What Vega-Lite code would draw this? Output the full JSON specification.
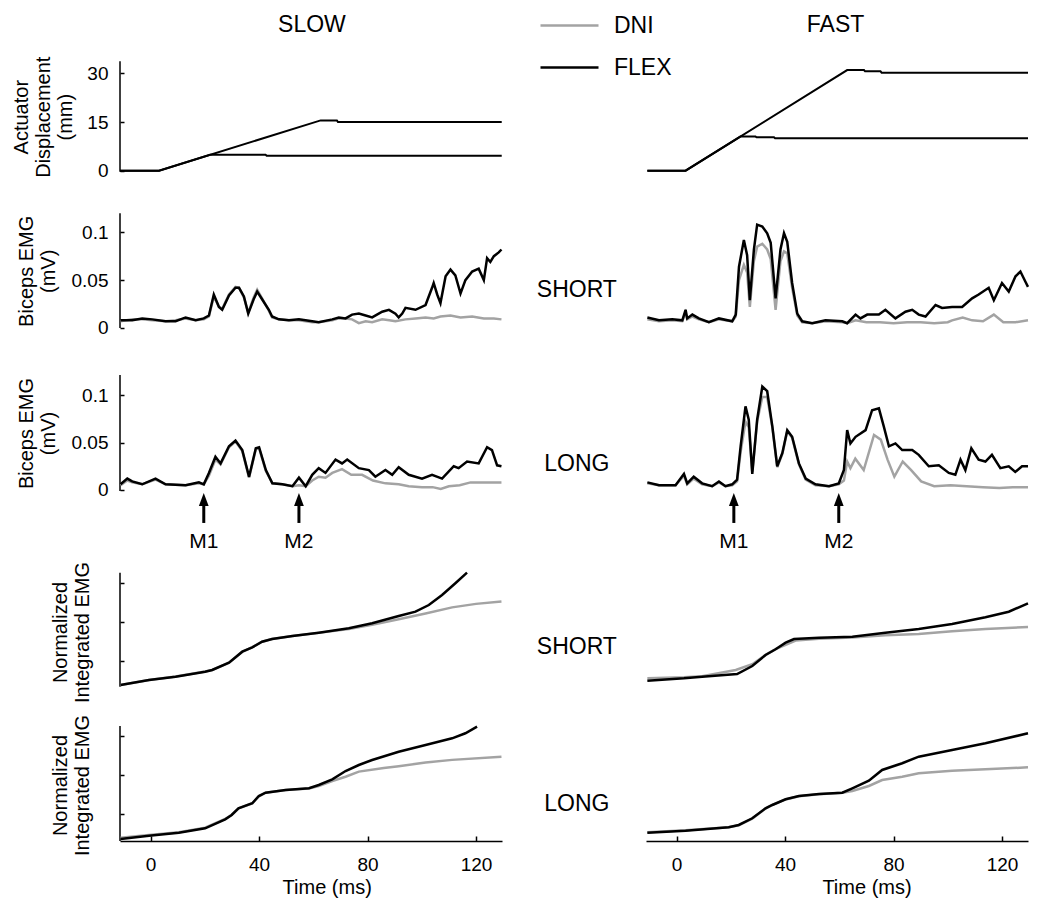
{
"$schema": "https://vega.github.io/schema/vega-lite/v6.json",
"padding": {"left": 11, "top": 0, "right": 5, "bottom": 5},
"background": "white",
"columns": 3,
"spacing": {"row": 0, "column": 0},
"bounds": "flush",
"align": "each",
"resolve": {"scale": {"color": "shared"}, "legend": {"color": "shared"}},
"datasets": {
"act_slow": [
{"stretch":"SHORT","t":-11.3,"d":0},{"stretch":"SHORT","t":3.1,"d":0},{"stretch":"SHORT","t":21.9,"d":4.9},{"stretch":"SHORT","t":42.4,"d":4.9},{"stretch":"SHORT","t":42.8,"d":4.6},{"stretch":"SHORT","t":129.5,"d":4.6},
{"stretch":"LONG","t":-11.3,"d":0},{"stretch":"LONG","t":3.1,"d":0},{"stretch":"LONG","t":62.7,"d":15.5},{"stretch":"LONG","t":68.7,"d":15.5},{"stretch":"LONG","t":69.1,"d":15.0},{"stretch":"LONG","t":129.5,"d":15.0}],
"act_fast": [
{"stretch":"SHORT","t":-10.8,"d":0},{"stretch":"SHORT","t":3.3,"d":0},{"stretch":"SHORT","t":23.5,"d":10.5},{"stretch":"SHORT","t":29.1,"d":10.5},{"stretch":"SHORT","t":29.5,"d":10.3},{"stretch":"SHORT","t":35.9,"d":10.3},{"stretch":"SHORT","t":36.3,"d":10.0},{"stretch":"SHORT","t":129.6,"d":10.0},
{"stretch":"LONG","t":-10.8,"d":0},{"stretch":"LONG","t":3.3,"d":0},{"stretch":"LONG","t":62.9,"d":31.0},{"stretch":"LONG","t":69.1,"d":31.0},{"stretch":"LONG","t":69.5,"d":30.6},{"stretch":"LONG","t":75.2,"d":30.6},{"stretch":"LONG","t":75.6,"d":30.2},{"stretch":"LONG","t":129.6,"d":30.2}],
"arrows": [
{"speed":"SLOW","label":"M1","t":19.6},{"speed":"SLOW","label":"M2","t":54.7},{"speed":"FAST","label":"M1","t":21.1},{"speed":"FAST","label":"M2","t":59.8}],
"slow_short": [
{"cond":"DNI","t":-11.1,"v":0.007},{"cond":"DNI","t":-6.8,"v":0.009},{"cond":"DNI","t":-3.1,"v":0.009},{"cond":"DNI","t":0.6,"v":0.008},{"cond":"DNI","t":5.5,"v":0.007},{"cond":"DNI","t":9.2,"v":0.008},{"cond":"DNI","t":12.9,"v":0.010},{"cond":"DNI","t":16.6,"v":0.008},{"cond":"DNI","t":19.6,"v":0.009},{"cond":"DNI","t":21.5,"v":0.012},{"cond":"DNI","t":23.3,"v":0.033},{"cond":"DNI","t":25.2,"v":0.022},{"cond":"DNI","t":26.4,"v":0.020},{"cond":"DNI","t":28.9,"v":0.035},{"cond":"DNI","t":31.3,"v":0.043},{"cond":"DNI","t":32.6,"v":0.042},{"cond":"DNI","t":34.4,"v":0.032},{"cond":"DNI","t":36.0,"v":0.016},{"cond":"DNI","t":38.0,"v":0.032},{"cond":"DNI","t":39.3,"v":0.040},{"cond":"DNI","t":41.1,"v":0.031},{"cond":"DNI","t":43.6,"v":0.018},{"cond":"DNI","t":44.8,"v":0.011},{"cond":"DNI","t":47.3,"v":0.009},{"cond":"DNI","t":51.0,"v":0.008},{"cond":"DNI","t":54.7,"v":0.008},{"cond":"DNI","t":59.6,"v":0.006},{"cond":"DNI","t":62.0,"v":0.006},{"cond":"DNI","t":67.0,"v":0.008},{"cond":"DNI","t":69.4,"v":0.010},{"cond":"DNI","t":71.9,"v":0.010},{"cond":"DNI","t":74.3,"v":0.009},{"cond":"DNI","t":76.8,"v":0.005},{"cond":"DNI","t":79.3,"v":0.007},{"cond":"DNI","t":81.7,"v":0.006},{"cond":"DNI","t":85.4,"v":0.009},{"cond":"DNI","t":88.0,"v":0.008},{"cond":"DNI","t":90.3,"v":0.007},{"cond":"DNI","t":94.0,"v":0.009},{"cond":"DNI","t":97.7,"v":0.010},{"cond":"DNI","t":101.4,"v":0.011},{"cond":"DNI","t":104.4,"v":0.010},{"cond":"DNI","t":106.9,"v":0.012},{"cond":"DNI","t":110.6,"v":0.013},{"cond":"DNI","t":114.3,"v":0.011},{"cond":"DNI","t":118.6,"v":0.012},{"cond":"DNI","t":122.9,"v":0.010},{"cond":"DNI","t":126.6,"v":0.010},{"cond":"DNI","t":129.4,"v":0.009},
{"cond":"FLEX","t":-11.1,"v":0.008},{"cond":"FLEX","t":-6.8,"v":0.008},{"cond":"FLEX","t":-3.1,"v":0.010},{"cond":"FLEX","t":0.6,"v":0.009},{"cond":"FLEX","t":5.5,"v":0.007},{"cond":"FLEX","t":9.2,"v":0.007},{"cond":"FLEX","t":12.9,"v":0.011},{"cond":"FLEX","t":16.6,"v":0.008},{"cond":"FLEX","t":19.6,"v":0.010},{"cond":"FLEX","t":21.5,"v":0.013},{"cond":"FLEX","t":23.3,"v":0.035},{"cond":"FLEX","t":25.2,"v":0.022},{"cond":"FLEX","t":26.4,"v":0.019},{"cond":"FLEX","t":28.9,"v":0.034},{"cond":"FLEX","t":31.3,"v":0.042},{"cond":"FLEX","t":32.6,"v":0.042},{"cond":"FLEX","t":34.4,"v":0.033},{"cond":"FLEX","t":36.0,"v":0.015},{"cond":"FLEX","t":38.0,"v":0.030},{"cond":"FLEX","t":39.3,"v":0.038},{"cond":"FLEX","t":41.1,"v":0.030},{"cond":"FLEX","t":43.6,"v":0.019},{"cond":"FLEX","t":44.8,"v":0.012},{"cond":"FLEX","t":47.3,"v":0.009},{"cond":"FLEX","t":51.0,"v":0.008},{"cond":"FLEX","t":54.7,"v":0.009},{"cond":"FLEX","t":59.6,"v":0.007},{"cond":"FLEX","t":62.0,"v":0.006},{"cond":"FLEX","t":67.0,"v":0.009},{"cond":"FLEX","t":69.4,"v":0.011},{"cond":"FLEX","t":71.9,"v":0.010},{"cond":"FLEX","t":74.3,"v":0.014},{"cond":"FLEX","t":76.8,"v":0.015},{"cond":"FLEX","t":79.3,"v":0.013},{"cond":"FLEX","t":81.7,"v":0.011},{"cond":"FLEX","t":85.4,"v":0.017},{"cond":"FLEX","t":87.9,"v":0.019},{"cond":"FLEX","t":90.3,"v":0.015},{"cond":"FLEX","t":91.5,"v":0.011},{"cond":"FLEX","t":92.8,"v":0.015},{"cond":"FLEX","t":94.0,"v":0.021},{"cond":"FLEX","t":97.7,"v":0.019},{"cond":"FLEX","t":101.4,"v":0.024},{"cond":"FLEX","t":103.8,"v":0.042},{"cond":"FLEX","t":104.4,"v":0.047},{"cond":"FLEX","t":105.7,"v":0.035},{"cond":"FLEX","t":106.9,"v":0.026},{"cond":"FLEX","t":108.8,"v":0.054},{"cond":"FLEX","t":110.6,"v":0.061},{"cond":"FLEX","t":112.4,"v":0.055},{"cond":"FLEX","t":114.3,"v":0.036},{"cond":"FLEX","t":116.1,"v":0.050},{"cond":"FLEX","t":118.6,"v":0.059},{"cond":"FLEX","t":121.0,"v":0.062},{"cond":"FLEX","t":122.9,"v":0.050},{"cond":"FLEX","t":124.1,"v":0.073},{"cond":"FLEX","t":125.3,"v":0.069},{"cond":"FLEX","t":126.6,"v":0.075},{"cond":"FLEX","t":128.4,"v":0.079},{"cond":"FLEX","t":129.4,"v":0.082}],
"fast_short": [
{"cond":"DNI","t":-10.8,"v":0.009},{"cond":"DNI","t":-6.5,"v":0.007},{"cond":"DNI","t":-1.6,"v":0.008},{"cond":"DNI","t":2.1,"v":0.007},{"cond":"DNI","t":3.3,"v":0.016},{"cond":"DNI","t":3.9,"v":0.009},{"cond":"DNI","t":5.8,"v":0.012},{"cond":"DNI","t":8.2,"v":0.009},{"cond":"DNI","t":11.9,"v":0.006},{"cond":"DNI","t":15.6,"v":0.009},{"cond":"DNI","t":20.5,"v":0.007},{"cond":"DNI","t":21.8,"v":0.012},{"cond":"DNI","t":23.0,"v":0.050},{"cond":"DNI","t":24.8,"v":0.066},{"cond":"DNI","t":26.0,"v":0.058},{"cond":"DNI","t":27.0,"v":0.022},{"cond":"DNI","t":28.5,"v":0.070},{"cond":"DNI","t":29.7,"v":0.085},{"cond":"DNI","t":31.6,"v":0.088},{"cond":"DNI","t":33.4,"v":0.082},{"cond":"DNI","t":34.7,"v":0.072},{"cond":"DNI","t":36.5,"v":0.019},{"cond":"DNI","t":38.3,"v":0.070},{"cond":"DNI","t":39.6,"v":0.080},{"cond":"DNI","t":40.8,"v":0.078},{"cond":"DNI","t":42.6,"v":0.042},{"cond":"DNI","t":44.5,"v":0.013},{"cond":"DNI","t":46.3,"v":0.006},{"cond":"DNI","t":50.0,"v":0.005},{"cond":"DNI","t":54.9,"v":0.007},{"cond":"DNI","t":61.1,"v":0.006},{"cond":"DNI","t":62.9,"v":0.005},{"cond":"DNI","t":66.0,"v":0.008},{"cond":"DNI","t":70.0,"v":0.006},{"cond":"DNI","t":75.0,"v":0.006},{"cond":"DNI","t":80.0,"v":0.005},{"cond":"DNI","t":85.0,"v":0.006},{"cond":"DNI","t":90.0,"v":0.006},{"cond":"DNI","t":95.0,"v":0.005},{"cond":"DNI","t":100.0,"v":0.006},{"cond":"DNI","t":101.6,"v":0.008},{"cond":"DNI","t":105.5,"v":0.011},{"cond":"DNI","t":109.0,"v":0.008},{"cond":"DNI","t":113.0,"v":0.007},{"cond":"DNI","t":117.0,"v":0.014},{"cond":"DNI","t":120.5,"v":0.006},{"cond":"DNI","t":125.0,"v":0.006},{"cond":"DNI","t":129.6,"v":0.008},
{"cond":"FLEX","t":-10.8,"v":0.011},{"cond":"FLEX","t":-6.5,"v":0.008},{"cond":"FLEX","t":-1.6,"v":0.009},{"cond":"FLEX","t":2.1,"v":0.008},{"cond":"FLEX","t":3.3,"v":0.019},{"cond":"FLEX","t":3.9,"v":0.010},{"cond":"FLEX","t":5.8,"v":0.014},{"cond":"FLEX","t":8.2,"v":0.010},{"cond":"FLEX","t":11.9,"v":0.006},{"cond":"FLEX","t":15.6,"v":0.010},{"cond":"FLEX","t":20.5,"v":0.007},{"cond":"FLEX","t":21.8,"v":0.014},{"cond":"FLEX","t":23.0,"v":0.064},{"cond":"FLEX","t":24.8,"v":0.092},{"cond":"FLEX","t":26.0,"v":0.076},{"cond":"FLEX","t":27.0,"v":0.029},{"cond":"FLEX","t":28.5,"v":0.082},{"cond":"FLEX","t":29.7,"v":0.108},{"cond":"FLEX","t":31.6,"v":0.106},{"cond":"FLEX","t":33.4,"v":0.099},{"cond":"FLEX","t":34.7,"v":0.089},{"cond":"FLEX","t":36.5,"v":0.031},{"cond":"FLEX","t":38.3,"v":0.082},{"cond":"FLEX","t":39.6,"v":0.099},{"cond":"FLEX","t":40.8,"v":0.090},{"cond":"FLEX","t":42.6,"v":0.047},{"cond":"FLEX","t":44.5,"v":0.015},{"cond":"FLEX","t":46.3,"v":0.007},{"cond":"FLEX","t":50.0,"v":0.005},{"cond":"FLEX","t":54.9,"v":0.008},{"cond":"FLEX","t":61.1,"v":0.007},{"cond":"FLEX","t":62.9,"v":0.005},{"cond":"FLEX","t":66.0,"v":0.014},{"cond":"FLEX","t":67.8,"v":0.010},{"cond":"FLEX","t":70.3,"v":0.014},{"cond":"FLEX","t":74.6,"v":0.014},{"cond":"FLEX","t":77.0,"v":0.019},{"cond":"FLEX","t":80.7,"v":0.010},{"cond":"FLEX","t":84.4,"v":0.017},{"cond":"FLEX","t":86.9,"v":0.019},{"cond":"FLEX","t":89.3,"v":0.014},{"cond":"FLEX","t":91.8,"v":0.012},{"cond":"FLEX","t":95.5,"v":0.024},{"cond":"FLEX","t":97.9,"v":0.021},{"cond":"FLEX","t":101.6,"v":0.022},{"cond":"FLEX","t":105.3,"v":0.022},{"cond":"FLEX","t":109.0,"v":0.031},{"cond":"FLEX","t":111.4,"v":0.035},{"cond":"FLEX","t":115.1,"v":0.042},{"cond":"FLEX","t":117.0,"v":0.029},{"cond":"FLEX","t":120.0,"v":0.047},{"cond":"FLEX","t":122.5,"v":0.038},{"cond":"FLEX","t":125.0,"v":0.054},{"cond":"FLEX","t":126.8,"v":0.059},{"cond":"FLEX","t":128.7,"v":0.048},{"cond":"FLEX","t":129.6,"v":0.043}],
"slow_long": [
{"cond":"DNI","t":-11.1,"v":0.005},{"cond":"DNI","t":-8.6,"v":0.010},{"cond":"DNI","t":-6.8,"v":0.008},{"cond":"DNI","t":-3.1,"v":0.006},{"cond":"DNI","t":1.8,"v":0.011},{"cond":"DNI","t":5.5,"v":0.006},{"cond":"DNI","t":12.9,"v":0.005},{"cond":"DNI","t":17.8,"v":0.007},{"cond":"DNI","t":19.6,"v":0.006},{"cond":"DNI","t":21.5,"v":0.015},{"cond":"DNI","t":23.9,"v":0.032},{"cond":"DNI","t":25.8,"v":0.027},{"cond":"DNI","t":28.9,"v":0.045},{"cond":"DNI","t":31.3,"v":0.051},{"cond":"DNI","t":33.8,"v":0.041},{"cond":"DNI","t":36.3,"v":0.013},{"cond":"DNI","t":38.8,"v":0.043},{"cond":"DNI","t":40.0,"v":0.044},{"cond":"DNI","t":42.5,"v":0.020},{"cond":"DNI","t":44.9,"v":0.007},{"cond":"DNI","t":48.6,"v":0.006},{"cond":"DNI","t":52.3,"v":0.004},{"cond":"DNI","t":54.7,"v":0.005},{"cond":"DNI","t":57.2,"v":0.004},{"cond":"DNI","t":59.6,"v":0.010},{"cond":"DNI","t":62.0,"v":0.014},{"cond":"DNI","t":64.5,"v":0.013},{"cond":"DNI","t":67.0,"v":0.018},{"cond":"DNI","t":70.6,"v":0.022},{"cond":"DNI","t":74.0,"v":0.016},{"cond":"DNI","t":78.0,"v":0.016},{"cond":"DNI","t":82.0,"v":0.010},{"cond":"DNI","t":86.6,"v":0.007},{"cond":"DNI","t":91.5,"v":0.006},{"cond":"DNI","t":95.2,"v":0.004},{"cond":"DNI","t":100.1,"v":0.003},{"cond":"DNI","t":104.0,"v":0.003},{"cond":"DNI","t":107.0,"v":0.001},{"cond":"DNI","t":110.0,"v":0.004},{"cond":"DNI","t":114.0,"v":0.005},{"cond":"DNI","t":118.0,"v":0.008},{"cond":"DNI","t":122.0,"v":0.008},{"cond":"DNI","t":129.4,"v":0.008},
{"cond":"FLEX","t":-11.1,"v":0.006},{"cond":"FLEX","t":-8.6,"v":0.012},{"cond":"FLEX","t":-6.8,"v":0.009},{"cond":"FLEX","t":-3.1,"v":0.006},{"cond":"FLEX","t":1.8,"v":0.012},{"cond":"FLEX","t":5.5,"v":0.006},{"cond":"FLEX","t":12.9,"v":0.005},{"cond":"FLEX","t":17.8,"v":0.008},{"cond":"FLEX","t":19.6,"v":0.006},{"cond":"FLEX","t":21.5,"v":0.018},{"cond":"FLEX","t":23.9,"v":0.035},{"cond":"FLEX","t":25.8,"v":0.028},{"cond":"FLEX","t":28.9,"v":0.046},{"cond":"FLEX","t":31.3,"v":0.052},{"cond":"FLEX","t":33.8,"v":0.042},{"cond":"FLEX","t":36.3,"v":0.014},{"cond":"FLEX","t":38.8,"v":0.044},{"cond":"FLEX","t":40.0,"v":0.045},{"cond":"FLEX","t":42.5,"v":0.021},{"cond":"FLEX","t":44.9,"v":0.007},{"cond":"FLEX","t":48.6,"v":0.006},{"cond":"FLEX","t":52.3,"v":0.004},{"cond":"FLEX","t":54.7,"v":0.013},{"cond":"FLEX","t":57.2,"v":0.004},{"cond":"FLEX","t":59.6,"v":0.016},{"cond":"FLEX","t":62.0,"v":0.023},{"cond":"FLEX","t":64.5,"v":0.018},{"cond":"FLEX","t":68.2,"v":0.032},{"cond":"FLEX","t":70.6,"v":0.028},{"cond":"FLEX","t":72.5,"v":0.032},{"cond":"FLEX","t":76.8,"v":0.023},{"cond":"FLEX","t":80.5,"v":0.021},{"cond":"FLEX","t":82.9,"v":0.014},{"cond":"FLEX","t":86.6,"v":0.021},{"cond":"FLEX","t":89.1,"v":0.016},{"cond":"FLEX","t":91.5,"v":0.024},{"cond":"FLEX","t":95.2,"v":0.016},{"cond":"FLEX","t":100.1,"v":0.012},{"cond":"FLEX","t":103.8,"v":0.016},{"cond":"FLEX","t":107.5,"v":0.012},{"cond":"FLEX","t":111.8,"v":0.025},{"cond":"FLEX","t":113.6,"v":0.023},{"cond":"FLEX","t":116.7,"v":0.030},{"cond":"FLEX","t":121.0,"v":0.028},{"cond":"FLEX","t":124.1,"v":0.045},{"cond":"FLEX","t":125.9,"v":0.042},{"cond":"FLEX","t":127.8,"v":0.026},{"cond":"FLEX","t":129.4,"v":0.025}],
"fast_long": [
{"cond":"DNI","t":-10.8,"v":0.007},{"cond":"DNI","t":-6.5,"v":0.005},{"cond":"DNI","t":-0.4,"v":0.005},{"cond":"DNI","t":2.7,"v":0.015},{"cond":"DNI","t":3.9,"v":0.006},{"cond":"DNI","t":6.3,"v":0.012},{"cond":"DNI","t":9.4,"v":0.006},{"cond":"DNI","t":13.1,"v":0.004},{"cond":"DNI","t":15.6,"v":0.008},{"cond":"DNI","t":18.0,"v":0.004},{"cond":"DNI","t":20.5,"v":0.005},{"cond":"DNI","t":22.3,"v":0.009},{"cond":"DNI","t":23.6,"v":0.040},{"cond":"DNI","t":25.4,"v":0.072},{"cond":"DNI","t":26.6,"v":0.066},{"cond":"DNI","t":27.9,"v":0.019},{"cond":"DNI","t":29.7,"v":0.072},{"cond":"DNI","t":31.6,"v":0.098},{"cond":"DNI","t":33.4,"v":0.098},{"cond":"DNI","t":35.3,"v":0.066},{"cond":"DNI","t":37.1,"v":0.024},{"cond":"DNI","t":39.0,"v":0.038},{"cond":"DNI","t":40.8,"v":0.062},{"cond":"DNI","t":42.6,"v":0.055},{"cond":"DNI","t":45.1,"v":0.027},{"cond":"DNI","t":47.6,"v":0.011},{"cond":"DNI","t":51.2,"v":0.005},{"cond":"DNI","t":56.2,"v":0.004},{"cond":"DNI","t":59.8,"v":0.006},{"cond":"DNI","t":61.7,"v":0.010},{"cond":"DNI","t":62.9,"v":0.030},{"cond":"DNI","t":64.1,"v":0.023},{"cond":"DNI","t":65.9,"v":0.033},{"cond":"DNI","t":69.0,"v":0.021},{"cond":"DNI","t":72.8,"v":0.058},{"cond":"DNI","t":75.3,"v":0.053},{"cond":"DNI","t":77.8,"v":0.032},{"cond":"DNI","t":80.3,"v":0.014},{"cond":"DNI","t":83.4,"v":0.030},{"cond":"DNI","t":86.5,"v":0.021},{"cond":"DNI","t":90.2,"v":0.009},{"cond":"DNI","t":95.0,"v":0.004},{"cond":"DNI","t":101.0,"v":0.005},{"cond":"DNI","t":107.0,"v":0.004},{"cond":"DNI","t":113.0,"v":0.003},{"cond":"DNI","t":119.0,"v":0.002},{"cond":"DNI","t":124.0,"v":0.003},{"cond":"DNI","t":129.6,"v":0.003},
{"cond":"FLEX","t":-10.8,"v":0.008},{"cond":"FLEX","t":-6.5,"v":0.005},{"cond":"FLEX","t":-0.4,"v":0.005},{"cond":"FLEX","t":2.7,"v":0.017},{"cond":"FLEX","t":3.9,"v":0.007},{"cond":"FLEX","t":6.3,"v":0.014},{"cond":"FLEX","t":9.4,"v":0.007},{"cond":"FLEX","t":13.1,"v":0.004},{"cond":"FLEX","t":15.6,"v":0.009},{"cond":"FLEX","t":18.0,"v":0.004},{"cond":"FLEX","t":20.5,"v":0.006},{"cond":"FLEX","t":22.3,"v":0.011},{"cond":"FLEX","t":23.6,"v":0.046},{"cond":"FLEX","t":25.4,"v":0.088},{"cond":"FLEX","t":26.6,"v":0.074},{"cond":"FLEX","t":27.9,"v":0.017},{"cond":"FLEX","t":29.7,"v":0.074},{"cond":"FLEX","t":31.6,"v":0.109},{"cond":"FLEX","t":33.4,"v":0.104},{"cond":"FLEX","t":35.3,"v":0.067},{"cond":"FLEX","t":37.1,"v":0.025},{"cond":"FLEX","t":39.0,"v":0.039},{"cond":"FLEX","t":40.8,"v":0.063},{"cond":"FLEX","t":42.6,"v":0.056},{"cond":"FLEX","t":45.1,"v":0.028},{"cond":"FLEX","t":47.6,"v":0.012},{"cond":"FLEX","t":51.2,"v":0.006},{"cond":"FLEX","t":56.2,"v":0.004},{"cond":"FLEX","t":59.8,"v":0.007},{"cond":"FLEX","t":61.7,"v":0.021},{"cond":"FLEX","t":62.9,"v":0.063},{"cond":"FLEX","t":64.1,"v":0.049},{"cond":"FLEX","t":66.0,"v":0.056},{"cond":"FLEX","t":69.7,"v":0.063},{"cond":"FLEX","t":72.1,"v":0.084},{"cond":"FLEX","t":74.6,"v":0.086},{"cond":"FLEX","t":76.4,"v":0.067},{"cond":"FLEX","t":78.3,"v":0.046},{"cond":"FLEX","t":80.7,"v":0.049},{"cond":"FLEX","t":83.2,"v":0.042},{"cond":"FLEX","t":86.9,"v":0.042},{"cond":"FLEX","t":89.3,"v":0.037},{"cond":"FLEX","t":93.0,"v":0.025},{"cond":"FLEX","t":96.7,"v":0.026},{"cond":"FLEX","t":100.4,"v":0.018},{"cond":"FLEX","t":102.8,"v":0.016},{"cond":"FLEX","t":104.7,"v":0.032},{"cond":"FLEX","t":106.5,"v":0.021},{"cond":"FLEX","t":108.7,"v":0.044},{"cond":"FLEX","t":111.4,"v":0.032},{"cond":"FLEX","t":113.9,"v":0.030},{"cond":"FLEX","t":116.3,"v":0.037},{"cond":"FLEX","t":119.4,"v":0.023},{"cond":"FLEX","t":122.5,"v":0.025},{"cond":"FLEX","t":124.9,"v":0.019},{"cond":"FLEX","t":127.4,"v":0.025},{"cond":"FLEX","t":129.6,"v":0.025}],
"slow_int_short": [
{"cond":"DNI","t":-11.1,"v":0.371},{"cond":"DNI","t":-0.6,"v":0.50},{"cond":"DNI","t":9.2,"v":0.59},{"cond":"DNI","t":20.1,"v":0.72},{"cond":"DNI","t":22.7,"v":0.76},{"cond":"DNI","t":28.9,"v":0.95},{"cond":"DNI","t":33.8,"v":1.23},{"cond":"DNI","t":37.5,"v":1.35},{"cond":"DNI","t":41.1,"v":1.49},{"cond":"DNI","t":44.8,"v":1.56},{"cond":"DNI","t":52.3,"v":1.64},{"cond":"DNI","t":62.0,"v":1.72},{"cond":"DNI","t":73.1,"v":1.82},{"cond":"DNI","t":81.7,"v":1.93},{"cond":"DNI","t":91.5,"v":2.07},{"cond":"DNI","t":101.4,"v":2.22},{"cond":"DNI","t":111.2,"v":2.38},{"cond":"DNI","t":120.0,"v":2.47},{"cond":"DNI","t":129.4,"v":2.53},
{"cond":"FLEX","t":-11.1,"v":0.371},{"cond":"FLEX","t":-0.6,"v":0.501},{"cond":"FLEX","t":9.2,"v":0.586},{"cond":"FLEX","t":20.1,"v":0.715},{"cond":"FLEX","t":22.7,"v":0.759},{"cond":"FLEX","t":28.9,"v":0.948},{"cond":"FLEX","t":33.8,"v":1.233},{"cond":"FLEX","t":37.5,"v":1.346},{"cond":"FLEX","t":41.1,"v":1.492},{"cond":"FLEX","t":44.8,"v":1.561},{"cond":"FLEX","t":52.3,"v":1.639},{"cond":"FLEX","t":62.0,"v":1.725},{"cond":"FLEX","t":73.1,"v":1.838},{"cond":"FLEX","t":81.7,"v":1.968},{"cond":"FLEX","t":91.5,"v":2.157},{"cond":"FLEX","t":97.7,"v":2.268},{"cond":"FLEX","t":102.6,"v":2.441},{"cond":"FLEX","t":107.5,"v":2.700},{"cond":"FLEX","t":112.4,"v":3.003},{"cond":"FLEX","t":116.7,"v":3.277}],
"fast_int_short": [
{"cond":"DNI","t":-10.8,"v":0.544},{"cond":"DNI","t":2.7,"v":0.57},{"cond":"DNI","t":9.4,"v":0.60},{"cond":"DNI","t":21.8,"v":0.76},{"cond":"DNI","t":27.9,"v":0.91},{"cond":"DNI","t":32.8,"v":1.15},{"cond":"DNI","t":36.5,"v":1.30},{"cond":"DNI","t":40.2,"v":1.41},{"cond":"DNI","t":43.9,"v":1.52},{"cond":"DNI","t":52.5,"v":1.57},{"cond":"DNI","t":64.8,"v":1.60},{"cond":"DNI","t":77.0,"v":1.66},{"cond":"DNI","t":89.3,"v":1.69},{"cond":"DNI","t":101.6,"v":1.76},{"cond":"DNI","t":113.9,"v":1.82},{"cond":"DNI","t":129.6,"v":1.872},
{"cond":"FLEX","t":-10.8,"v":0.483},{"cond":"FLEX","t":2.7,"v":0.544},{"cond":"FLEX","t":9.4,"v":0.586},{"cond":"FLEX","t":22.3,"v":0.656},{"cond":"FLEX","t":27.9,"v":0.863},{"cond":"FLEX","t":32.8,"v":1.147},{"cond":"FLEX","t":36.5,"v":1.295},{"cond":"FLEX","t":40.2,"v":1.466},{"cond":"FLEX","t":43.3,"v":1.561},{"cond":"FLEX","t":52.5,"v":1.595},{"cond":"FLEX","t":64.8,"v":1.621},{"cond":"FLEX","t":77.0,"v":1.725},{"cond":"FLEX","t":89.3,"v":1.820},{"cond":"FLEX","t":101.6,"v":1.950},{"cond":"FLEX","t":113.9,"v":2.123},{"cond":"FLEX","t":122.5,"v":2.268},{"cond":"FLEX","t":129.6,"v":2.485}],
"slow_int_long": [
{"cond":"DNI","t":-11.1,"v":0.40},{"cond":"DNI","t":-0.6,"v":0.47},{"cond":"DNI","t":10.4,"v":0.54},{"cond":"DNI","t":20.1,"v":0.66},{"cond":"DNI","t":27.5,"v":0.88},{"cond":"DNI","t":29.9,"v":0.99},{"cond":"DNI","t":32.4,"v":1.15},{"cond":"DNI","t":37.5,"v":1.28},{"cond":"DNI","t":39.9,"v":1.46},{"cond":"DNI","t":42.4,"v":1.55},{"cond":"DNI","t":49.8,"v":1.62},{"cond":"DNI","t":58.4,"v":1.66},{"cond":"DNI","t":62.0,"v":1.72},{"cond":"DNI","t":67.0,"v":1.85},{"cond":"DNI","t":71.9,"v":1.96},{"cond":"DNI","t":76.8,"v":2.09},{"cond":"DNI","t":86.0,"v":2.18},{"cond":"DNI","t":91.5,"v":2.23},{"cond":"DNI","t":101.4,"v":2.32},{"cond":"DNI","t":111.2,"v":2.39},{"cond":"DNI","t":129.4,"v":2.472},
{"cond":"FLEX","t":-11.1,"v":0.369},{"cond":"FLEX","t":-0.6,"v":0.454},{"cond":"FLEX","t":10.4,"v":0.530},{"cond":"FLEX","t":20.1,"v":0.642},{"cond":"FLEX","t":27.5,"v":0.872},{"cond":"FLEX","t":29.9,"v":0.982},{"cond":"FLEX","t":32.4,"v":1.153},{"cond":"FLEX","t":37.5,"v":1.281},{"cond":"FLEX","t":39.9,"v":1.467},{"cond":"FLEX","t":42.4,"v":1.552},{"cond":"FLEX","t":49.8,"v":1.621},{"cond":"FLEX","t":58.4,"v":1.664},{"cond":"FLEX","t":62.0,"v":1.748},{"cond":"FLEX","t":67.0,"v":1.894},{"cond":"FLEX","t":71.9,"v":2.106},{"cond":"FLEX","t":76.8,"v":2.259},{"cond":"FLEX","t":81.7,"v":2.387},{"cond":"FLEX","t":91.5,"v":2.599},{"cond":"FLEX","t":101.4,"v":2.770},{"cond":"FLEX","t":111.2,"v":2.941},{"cond":"FLEX","t":116.1,"v":3.069},{"cond":"FLEX","t":120.4,"v":3.238}],
"fast_int_long": [
{"cond":"DNI","t":-10.8,"v":0.54},{"cond":"DNI","t":3.3,"v":0.59},{"cond":"DNI","t":19.2,"v":0.67},{"cond":"DNI","t":22.9,"v":0.72},{"cond":"DNI","t":27.9,"v":0.89},{"cond":"DNI","t":32.8,"v":1.15},{"cond":"DNI","t":35.3,"v":1.24},{"cond":"DNI","t":40.2,"v":1.38},{"cond":"DNI","t":45.1,"v":1.46},{"cond":"DNI","t":52.5,"v":1.51},{"cond":"DNI","t":61.1,"v":1.55},{"cond":"DNI","t":64.8,"v":1.595},{"cond":"DNI","t":70.9,"v":1.723},{"cond":"DNI","t":75.8,"v":1.876},{"cond":"DNI","t":83.2,"v":1.961},{"cond":"DNI","t":89.3,"v":2.047},{"cond":"DNI","t":101.6,"v":2.114},{"cond":"DNI","t":113.9,"v":2.149},{"cond":"DNI","t":129.6,"v":2.2},
{"cond":"FLEX","t":-10.8,"v":0.530},{"cond":"FLEX","t":3.3,"v":0.581},{"cond":"FLEX","t":19.2,"v":0.668},{"cond":"FLEX","t":22.9,"v":0.727},{"cond":"FLEX","t":27.9,"v":0.898},{"cond":"FLEX","t":32.8,"v":1.153},{"cond":"FLEX","t":35.3,"v":1.238},{"cond":"FLEX","t":40.2,"v":1.383},{"cond":"FLEX","t":45.1,"v":1.467},{"cond":"FLEX","t":52.5,"v":1.519},{"cond":"FLEX","t":61.1,"v":1.552},{"cond":"FLEX","t":64.8,"v":1.664},{"cond":"FLEX","t":70.9,"v":1.858},{"cond":"FLEX","t":75.8,"v":2.132},{"cond":"FLEX","t":83.2,"v":2.303},{"cond":"FLEX","t":89.3,"v":2.472},{"cond":"FLEX","t":101.6,"v":2.642},{"cond":"FLEX","t":113.9,"v":2.814},{"cond":"FLEX","t":129.6,"v":3.069}]
},
"concat": [
{"width": 382, "height": 192, "layer": [
 {"data": {"values": [{}]}, "mark": {"type": "rule", "color": "#000", "strokeWidth": 1.5},
  "encoding": {"x": {"datum": -11.3, "type": "quantitative", "scale": {"domain": [-11.3, 129.6], "nice": false, "zero": false}, "axis": null},
   "y": {"datum": -0.3, "type": "quantitative", "scale": {"domain": [-6.56, 52.58], "nice": false, "zero": false}, "axis": {"values": [0, 15, 30], "title": ["Actuator", "Displacement", "(mm)"], "titleX": -99, "titleY": 116.7}},
   "y2": {"datum": 33.7}}},
 {"data": {"name": "act_slow"}, "mark": {"type": "line", "color": "#000", "strokeWidth": 2},
  "encoding": {"x": {"field": "t", "type": "quantitative", "scale": {"domain": [-11.3, 129.6], "nice": false, "zero": false}, "axis": null},
   "y": {"field": "d", "type": "quantitative", "scale": {"domain": [-6.56, 52.58], "nice": false, "zero": false}, "axis": {"values": [0, 15, 30], "title": ["Actuator", "Displacement", "(mm)"], "titleX": -99, "titleY": 116.7}},
   "detail": {"field": "stretch", "type": "nominal"}}},
 {"data": {"values": [{}]}, "mark": {"type": "text", "text": "SLOW", "fontSize": 23, "align": "center", "baseline": "middle"},
  "encoding": {"x": {"datum": 59.5, "type": "quantitative", "scale": {"domain": [-11.3, 129.6], "nice": false, "zero": false}, "axis": null},
   "y": {"datum": 44.8, "type": "quantitative", "scale": {"domain": [-6.56, 52.58], "nice": false, "zero": false}, "axis": {"values": [0, 15, 30], "title": ["Actuator", "Displacement", "(mm)"], "titleX": -99, "titleY": 116.7}}}}
]},
{"width": 144, "height": 192, "data": {"values": [{}]}, "mark": {"type": "text", "text": ""},
 "encoding": {"x": {"datum": 0.5, "type": "quantitative", "scale": {"domain": [0, 1]}, "axis": null}, "y": {"datum": 0.5, "type": "quantitative", "scale": {"domain": [0, 1]}, "axis": null}}},
{"width": 382, "height": 192, "layer": [
 {"data": {"name": "act_fast"}, "mark": {"type": "line", "color": "#000", "strokeWidth": 2},
  "encoding": {"x": {"field": "t", "type": "quantitative", "scale": {"domain": [-11.3, 129.6], "nice": false, "zero": false}, "axis": null},
   "y": {"field": "d", "type": "quantitative", "scale": {"domain": [-6.56, 52.58], "nice": false, "zero": false}, "axis": null},
   "detail": {"field": "stretch", "type": "nominal"}}},
 {"data": {"values": [{}]}, "mark": {"type": "text", "text": "FAST", "fontSize": 23, "align": "center", "baseline": "middle"},
  "encoding": {"x": {"datum": 58.6, "type": "quantitative", "scale": {"domain": [-11.3, 129.6], "nice": false, "zero": false}, "axis": null},
   "y": {"datum": 44.8, "type": "quantitative", "scale": {"domain": [-6.56, 52.58], "nice": false, "zero": false}, "axis": null}}}
]},
{"width": 382, "height": 160, "layer": [
 {"data": {"values": [{}]}, "mark": {"type": "rule", "color": "#000", "strokeWidth": 1.5},
  "encoding": {"x": {"datum": -11.3, "type": "quantitative", "scale": {"domain": [-11.3, 129.6], "nice": false, "zero": false}, "axis": null},
   "y": {"datum": 0, "type": "quantitative", "scale": {"domain": [-0.0251, 0.1421], "nice": false, "zero": false}, "axis": {"values": [0, 0.05, 0.1], "format": "~g", "title": ["Biceps EMG", "(mV)"], "titleX": -94, "titleY": 78.8}},
   "y2": {"datum": 0.12}}},
 {"data": {"name": "slow_short"}, "mark": {"type": "line", "strokeWidth": 2.5},
  "encoding": {"x": {"field": "t", "type": "quantitative", "scale": {"domain": [-11.3, 129.6], "nice": false, "zero": false}, "axis": null},
   "y": {"field": "v", "type": "quantitative", "scale": {"domain": [-0.0251, 0.1421], "nice": false, "zero": false}, "axis": {"values": [0, 0.05, 0.1], "format": "~g", "title": ["Biceps EMG", "(mV)"], "titleX": -94, "titleY": 78.8}},
   "color": {"field": "cond", "type": "nominal", "scale": {"domain": ["DNI", "FLEX"], "range": ["#a3a3a3", "#000000"]}, "title": null}}}
]},
{"width": 144, "height": 160, "data": {"values": [{}]}, "mark": {"type": "text", "text": "SHORT", "fontSize": 23, "align": "center", "baseline": "middle"},
 "encoding": {"x": {"datum": 0.52, "type": "quantitative", "scale": {"domain": [0, 1]}, "axis": null}, "y": {"datum": 0.0397, "type": "quantitative", "scale": {"domain": [-0.0251, 0.1421], "nice": false, "zero": false}, "axis": null}}},
{"width": 382, "height": 160, "layer": [
 {"data": {"name": "fast_short"}, "mark": {"type": "line", "strokeWidth": 2.5},
  "encoding": {"x": {"field": "t", "type": "quantitative", "scale": {"domain": [-11.3, 129.6], "nice": false, "zero": false}, "axis": null},
   "y": {"field": "v", "type": "quantitative", "scale": {"domain": [-0.0251, 0.1421], "nice": false, "zero": false}, "axis": null},
   "color": {"field": "cond", "type": "nominal", "scale": {"domain": ["DNI", "FLEX"], "range": ["#a3a3a3", "#000000"]}, "title": null}}}
]},
{"width": 382, "height": 206, "layer": [
 {"data": {"values": [{}]}, "mark": {"type": "rule", "color": "#000", "strokeWidth": 1.5},
  "encoding": {"x": {"datum": -11.3, "type": "quantitative", "scale": {"domain": [-11.3, 129.6], "nice": false, "zero": false}, "axis": null},
   "y": {"datum": -0.001, "type": "quantitative", "scale": {"domain": [-0.0716, 0.1453], "nice": false, "zero": false}, "axis": {"values": [0, 0.05, 0.1], "format": "~g", "title": ["Biceps EMG", "(mV)"], "titleX": -94, "titleY": 81}},
   "y2": {"datum": 0.121}}},
 {"data": {"name": "slow_long"}, "mark": {"type": "line", "strokeWidth": 2.5},
  "encoding": {"x": {"field": "t", "type": "quantitative", "scale": {"domain": [-11.3, 129.6], "nice": false, "zero": false}, "axis": null},
   "y": {"field": "v", "type": "quantitative", "scale": {"domain": [-0.0716, 0.1453], "nice": false, "zero": false}, "axis": {"values": [0, 0.05, 0.1], "format": "~g", "title": ["Biceps EMG", "(mV)"], "titleX": -94, "titleY": 81}},
   "color": {"field": "cond", "type": "nominal", "scale": {"domain": ["DNI", "FLEX"], "range": ["#a3a3a3", "#000000"]}, "title": null}}},
 {"data": {"name": "arrows"}, "transform": [{"filter": "datum.speed === 'SLOW'"}], "mark": {"type": "rule", "color": "#000", "strokeWidth": 3},
  "encoding": {"x": {"field": "t", "type": "quantitative", "scale": {"domain": [-11.3, 129.6], "nice": false, "zero": false}, "axis": null},
   "y": {"datum": -0.010, "type": "quantitative", "scale": {"domain": [-0.0716, 0.1453], "nice": false, "zero": false}, "axis": {"values": [0, 0.05, 0.1], "format": "~g", "title": ["Biceps EMG", "(mV)"], "titleX": -94, "titleY": 81}},
   "y2": {"datum": -0.0347}}},
 {"data": {"name": "arrows"}, "transform": [{"filter": "datum.speed === 'SLOW'"}], "mark": {"type": "point", "shape": "M0,-1L-0.75,1L0.75,1Z", "filled": true, "color": "#000", "opacity": 1, "size": 169},
  "encoding": {"x": {"field": "t", "type": "quantitative", "scale": {"domain": [-11.3, 129.6], "nice": false, "zero": false}, "axis": null},
   "y": {"datum": -0.010, "type": "quantitative", "scale": {"domain": [-0.0716, 0.1453], "nice": false, "zero": false}, "axis": {"values": [0, 0.05, 0.1], "format": "~g", "title": ["Biceps EMG", "(mV)"], "titleX": -94, "titleY": 81}}}},
 {"data": {"name": "arrows"}, "transform": [{"filter": "datum.speed === 'SLOW'"}], "mark": {"type": "text", "fontSize": 21, "align": "center", "baseline": "middle"},
  "encoding": {"x": {"field": "t", "type": "quantitative", "scale": {"domain": [-11.3, 129.6], "nice": false, "zero": false}, "axis": null},
   "y": {"datum": -0.0544, "type": "quantitative", "scale": {"domain": [-0.0716, 0.1453], "nice": false, "zero": false}, "axis": {"values": [0, 0.05, 0.1], "format": "~g", "title": ["Biceps EMG", "(mV)"], "titleX": -94, "titleY": 81}},
   "text": {"field": "label", "type": "nominal"}}}
]},
{"width": 144, "height": 206, "data": {"values": [{}]}, "mark": {"type": "text", "text": "LONG", "fontSize": 23, "align": "center", "baseline": "middle"},
 "encoding": {"x": {"datum": 0.52, "type": "quantitative", "scale": {"domain": [0, 1]}, "axis": null}, "y": {"datum": 0.0274, "type": "quantitative", "scale": {"domain": [-0.0716, 0.1453], "nice": false, "zero": false}, "axis": null}}},
{"width": 382, "height": 206, "layer": [
 {"data": {"name": "fast_long"}, "mark": {"type": "line", "strokeWidth": 2.5},
  "encoding": {"x": {"field": "t", "type": "quantitative", "scale": {"domain": [-11.3, 129.6], "nice": false, "zero": false}, "axis": null},
   "y": {"field": "v", "type": "quantitative", "scale": {"domain": [-0.0716, 0.1453], "nice": false, "zero": false}, "axis": null},
   "color": {"field": "cond", "type": "nominal", "scale": {"domain": ["DNI", "FLEX"], "range": ["#a3a3a3", "#000000"]}, "title": null}}},
 {"data": {"name": "arrows"}, "transform": [{"filter": "datum.speed === 'FAST'"}], "mark": {"type": "rule", "color": "#000", "strokeWidth": 3},
  "encoding": {"x": {"field": "t", "type": "quantitative", "scale": {"domain": [-11.3, 129.6], "nice": false, "zero": false}, "axis": null},
   "y": {"datum": -0.010, "type": "quantitative", "scale": {"domain": [-0.0716, 0.1453], "nice": false, "zero": false}, "axis": null},
   "y2": {"datum": -0.0347}}},
 {"data": {"name": "arrows"}, "transform": [{"filter": "datum.speed === 'FAST'"}], "mark": {"type": "point", "shape": "M0,-1L-0.75,1L0.75,1Z", "filled": true, "color": "#000", "opacity": 1, "size": 169},
  "encoding": {"x": {"field": "t", "type": "quantitative", "scale": {"domain": [-11.3, 129.6], "nice": false, "zero": false}, "axis": null},
   "y": {"datum": -0.010, "type": "quantitative", "scale": {"domain": [-0.0716, 0.1453], "nice": false, "zero": false}, "axis": null}}},
 {"data": {"name": "arrows"}, "transform": [{"filter": "datum.speed === 'FAST'"}], "mark": {"type": "text", "fontSize": 21, "align": "center", "baseline": "middle"},
  "encoding": {"x": {"field": "t", "type": "quantitative", "scale": {"domain": [-11.3, 129.6], "nice": false, "zero": false}, "axis": null},
   "y": {"datum": -0.0544, "type": "quantitative", "scale": {"domain": [-0.0716, 0.1453], "nice": false, "zero": false}, "axis": null},
   "text": {"field": "label", "type": "nominal"}}}
]},
{"width": 382, "height": 148, "layer": [
 {"data": {"values": [{}]}, "mark": {"type": "rule", "color": "#000", "strokeWidth": 1.5},
  "encoding": {"x": {"datum": -11.3, "type": "quantitative", "scale": {"domain": [-11.3, 129.6], "nice": false, "zero": false}, "axis": null},
   "y": {"datum": 0.327, "type": "quantitative", "scale": {"domain": [-0.172, 3.657], "nice": false, "zero": false}, "axis": {"values": [1, 2, 3], "labels": false, "title": ["Normalized", "Integrated EMG"], "titleX": -60, "titleY": 74}},
   "y2": {"datum": 3.277}}},
 {"data": {"name": "slow_int_short"}, "mark": {"type": "line", "strokeWidth": 2.5},
  "encoding": {"x": {"field": "t", "type": "quantitative", "scale": {"domain": [-11.3, 129.6], "nice": false, "zero": false}, "axis": null},
   "y": {"field": "v", "type": "quantitative", "scale": {"domain": [-0.172, 3.657], "nice": false, "zero": false}, "axis": {"values": [1, 2, 3], "labels": false, "title": ["Normalized", "Integrated EMG"], "titleX": -60, "titleY": 74}},
   "color": {"field": "cond", "type": "nominal", "scale": {"domain": ["DNI", "FLEX"], "range": ["#a3a3a3", "#000000"]}, "title": null}}}
]},
{"width": 144, "height": 148, "data": {"values": [{}]}, "mark": {"type": "text", "text": "SHORT", "fontSize": 23, "align": "center", "baseline": "middle"},
 "encoding": {"x": {"datum": 0.52, "type": "quantitative", "scale": {"domain": [0, 1]}, "axis": null}, "y": {"datum": 1.354, "type": "quantitative", "scale": {"domain": [-0.172, 3.657], "nice": false, "zero": false}, "axis": null}}},
{"width": 382, "height": 148, "layer": [
 {"data": {"name": "fast_int_short"}, "mark": {"type": "line", "strokeWidth": 2.5},
  "encoding": {"x": {"field": "t", "type": "quantitative", "scale": {"domain": [-11.3, 129.6], "nice": false, "zero": false}, "axis": null},
   "y": {"field": "v", "type": "quantitative", "scale": {"domain": [-0.172, 3.657], "nice": false, "zero": false}, "axis": null},
   "color": {"field": "cond", "type": "nominal", "scale": {"domain": ["DNI", "FLEX"], "range": ["#a3a3a3", "#000000"]}, "title": null}}}
]},
{"width": 382, "height": 135, "layer": [
 {"data": {"values": [{}]}, "mark": {"type": "rule", "color": "#000", "strokeWidth": 1.5},
  "encoding": {"x": {"datum": -11.3, "type": "quantitative", "scale": {"domain": [-11.3, 129.6], "nice": false, "zero": false}, "axis": {"values": [0, 40, 80, 120], "title": "Time (ms)", "titleX": 206.7, "titleY": 46}},
   "y": {"datum": 0.318, "type": "quantitative", "scale": {"domain": [0.318, 3.766], "nice": false, "zero": false}, "axis": {"values": [1, 2, 3], "labels": false, "title": ["Normalized", "Integrated EMG"], "titleX": -60, "titleY": 79}},
   "y2": {"datum": 3.255}}},
 {"data": {"name": "slow_int_long"}, "mark": {"type": "line", "strokeWidth": 2.5},
  "encoding": {"x": {"field": "t", "type": "quantitative", "scale": {"domain": [-11.3, 129.6], "nice": false, "zero": false}, "axis": {"values": [0, 40, 80, 120], "title": "Time (ms)", "titleX": 206.7, "titleY": 46}},
   "y": {"field": "v", "type": "quantitative", "scale": {"domain": [0.318, 3.766], "nice": false, "zero": false}, "axis": {"values": [1, 2, 3], "labels": false, "title": ["Normalized", "Integrated EMG"], "titleX": -60, "titleY": 79}},
   "color": {"field": "cond", "type": "nominal", "scale": {"domain": ["DNI", "FLEX"], "range": ["#a3a3a3", "#000000"]}, "title": null}}}
]},
{"width": 144, "height": 135, "data": {"values": [{}]}, "mark": {"type": "text", "text": "LONG", "fontSize": 23, "align": "center", "baseline": "middle"},
 "encoding": {"x": {"datum": 0.52, "type": "quantitative", "scale": {"domain": [0, 1]}, "axis": null}, "y": {"datum": 1.263, "type": "quantitative", "scale": {"domain": [0.318, 3.766], "nice": false, "zero": false}, "axis": null}}},
{"width": 382, "height": 135, "layer": [
 {"data": {"name": "fast_int_long"}, "mark": {"type": "line", "strokeWidth": 2.5},
  "encoding": {"x": {"field": "t", "type": "quantitative", "scale": {"domain": [-11.3, 129.6], "nice": false, "zero": false}, "axis": {"values": [0, 40, 80, 120], "title": "Time (ms)", "titleX": 220.5, "titleY": 46}},
   "y": {"field": "v", "type": "quantitative", "scale": {"domain": [0.318, 3.766], "nice": false, "zero": false}, "axis": null},
   "color": {"field": "cond", "type": "nominal", "scale": {"domain": ["DNI", "FLEX"], "range": ["#a3a3a3", "#000000"]}, "title": null}}}
]}
],
"config": {
 "view": {"stroke": null},
 "font": "Liberation Sans",
 "axis": {"grid": false, "domainColor": "#000", "tickColor": "#000", "labelColor": "#000", "titleColor": "#000", "labelFont": "Liberation Sans", "titleFont": "Liberation Sans", "labelFontSize": 19, "titleFontSize": 20, "titleFontWeight": "normal", "tickWidth": 1.5, "domainWidth": 1.5},
 "axisY": {"domain": false, "tickSize": -4, "labelPadding": 16, "titleAngle": -90, "titleBaseline": "middle", "titleAlign": "center", "titleLineHeight": 22},
 "axisX": {"tickSize": -5, "labelPadding": 19, "titleBaseline": "middle", "titleAlign": "center"},
 "legend": {"orient": "none", "legendX": 433.5, "legendY": 9.5, "symbolType": "M-2,0H2", "symbolSize": 841, "symbolStrokeWidth": 2.5, "labelFontSize": 23, "labelFont": "Liberation Sans", "labelColor": "#000", "labelOffset": 28.5, "rowPadding": 14, "padding": 0},
 "text": {"font": "Liberation Sans", "color": "#000"}
}
}
